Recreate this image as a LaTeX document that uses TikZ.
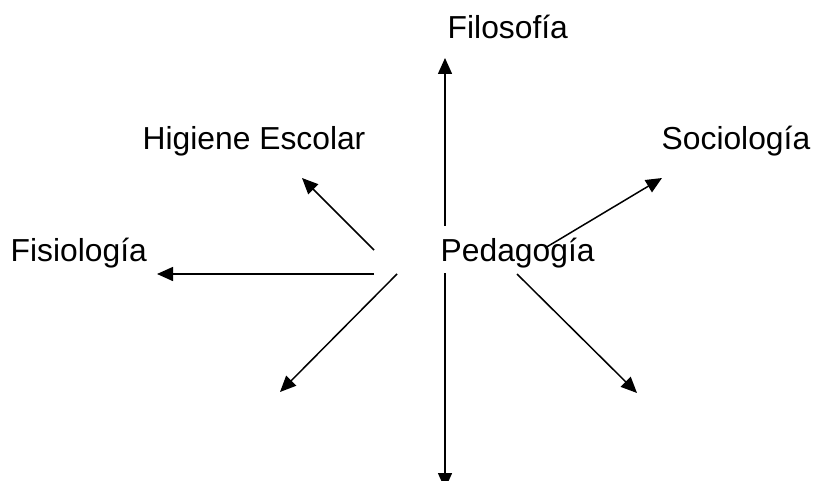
\documentclass[tikz,border=0pt]{standalone}
\usepackage{fontspec}
\setmainfont{Liberation Sans}
\usetikzlibrary{arrows.meta}
\begin{document}
\begin{tikzpicture}[x=1pt,y=-1pt,
  lbl/.style={anchor=base west,inner sep=0pt,font=\fontsize{31.8}{38}\selectfont},
  arr/.style={line width=1.5pt,-{Triangle[length=16pt,width=14pt]}}]
\useasboundingbox (0,0) rectangle (813,481);
% ends of the arrows
\coordinate (vtop) at (445,58);
\coordinate (vbot) at (445,489);
\coordinate (hstart) at (374,250);
\coordinate (hend) at (302,178);
\coordinate (fstart) at (374,274);
\coordinate (fend) at (157,274);
\coordinate (llstart) at (397,274);
\coordinate (llend) at (280,392);
\coordinate (sstart) at (545,248);
\coordinate (send) at (662,178);
\coordinate (lrstart) at (517,274);
\coordinate (lrend) at (637,393);
\draw[arr,{Triangle[length=16pt,width=14pt]}-{Triangle[length=16pt,width=14pt]}] (vbot) -- (vtop);
% labels
\node[lbl] (filo) at (447.5,39) {Filosofía};
\node[lbl] (hig) at (142.5,150) {Higiene Escolar};
\node[lbl] (soc) at (661.5,150) {Sociología};
\node[lbl] (fis) at (10.5,261) {Fisiología};
\node[lbl,fill=white,inner ysep=5pt,text height=30pt,text depth=7pt] (ped) at (440.5,261) {Pedagogía};
\draw[arr] (hstart) -- (hend);
\draw[arr] (fstart) -- (fend);
\draw[arr] (llstart) -- (llend);
\draw[arr] (sstart) -- (send);
\draw[arr] (lrstart) -- (lrend);
\end{tikzpicture}
\end{document}
